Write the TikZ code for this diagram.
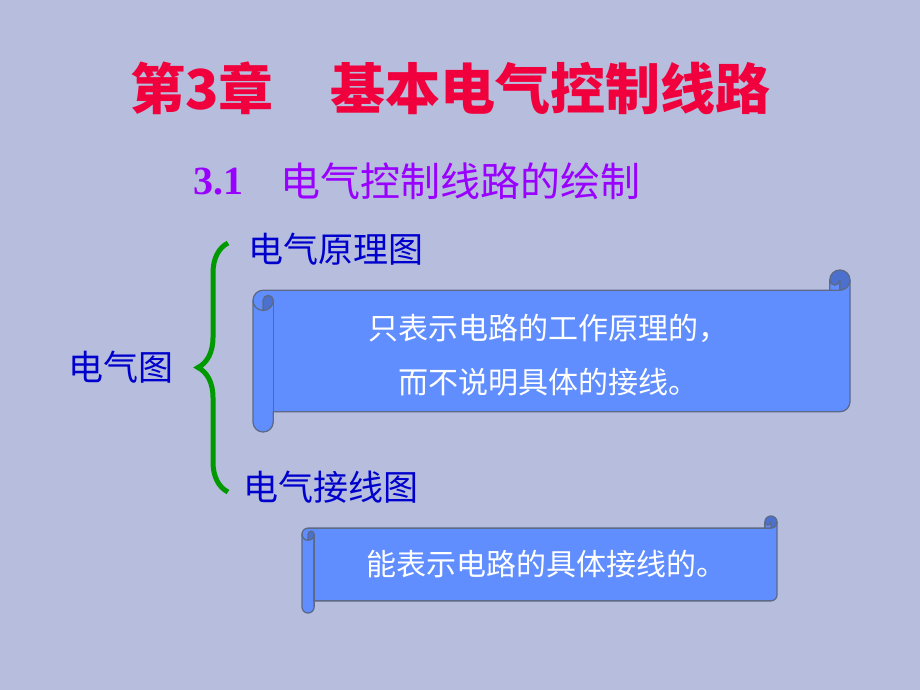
\documentclass[tikz,border=0pt]{standalone}
\usepackage{fontspec}
\setmainfont{Liberation Serif}
\newfontfamily\cjk{Noto Sans CJK SC}
\usepackage{tikz}
\usetikzlibrary{calc,positioning}
\usetikzlibrary{decorations.pathreplacing}

\definecolor{slidebg}{RGB}{182,189,221}
\definecolor{titlered}{RGB}{240,0,60}
\definecolor{subpurple}{RGB}{153,0,255}
\definecolor{labelblue}{RGB}{0,0,204}
\definecolor{bracegreen}{RGB}{0,153,0}
\definecolor{scrollfill}{RGB}{97,142,255}
\definecolor{scrolldark}{RGB}{76,112,206}
\definecolor{scrollline}{RGB}{92,106,136}

\tikzset{
  bluetext/.style={inner sep=0pt,anchor=west,text=labelblue,font=\cjk\fontsize{35}{42}\selectfont},
  scrolltext/.style={inner sep=0pt,align=center,text=white,font=\cjk\fontsize{30}{54}\selectfont},
  scrolledge/.style={draw=scrollline,line width=1.3pt,line join=round}
}

% horizontal scroll: left, top, right, bottom
\newcommand{\drawscroll}[4]{%
  \pgfmathsetmacro{\scL}{#1}\pgfmathsetmacro{\scT}{#2}%
  \pgfmathsetmacro{\scR}{#3}\pgfmathsetmacro{\scB}{#4}%
  \pgfmathsetmacro{\scC}{(#4-#2)/8}%
  \pgfmathsetmacro{\scH}{\scC/2}\pgfmathsetmacro{\scQ}{\scC/4}%
  \fill[scrollfill] (\scR,\scT+\scH)
    arc[start angle=0,delta angle=90,radius=\scH]
    -- (\scR-\scH,\scT+\scH)
    arc[start angle=0,delta angle=180,radius=\scQ]
    -- (\scR-\scC,\scT+\scC)
    -- (\scL+\scH,\scT+\scC)
    arc[start angle=270,delta angle=-90,radius=\scH]
    -- (\scL,\scB-\scH)
    arc[start angle=180,delta angle=-180,radius=\scH]
    -- (\scL+\scC,\scB-\scC)
    -- (\scR-\scH,\scB-\scC)
    arc[start angle=90,delta angle=-90,radius=\scH]
    -- cycle;
  \fill[scrolldark] (\scL+\scH,\scT+2*\scC)
    arc[start angle=90,delta angle=-90,radius=\scH]
    arc[start angle=0,delta angle=-180,radius=\scQ] -- cycle;
  \fill[scrolldark] (\scR-\scH,\scT+\scC)
    arc[start angle=90,delta angle=-270,radius=\scH]
    arc[start angle=180,delta angle=-180,radius=\scQ] -- cycle;
  \draw[scrolledge] (\scL,\scT+\scC+\scH)
    arc[start angle=180,delta angle=90,radius=\scH]
    -- (\scR-\scC,\scT+\scC)
    -- (\scR-\scC,\scT+\scH)
    arc[start angle=180,delta angle=180,radius=\scH]
    -- (\scR,\scB-\scC-\scH)
    arc[start angle=0,delta angle=90,radius=\scH]
    -- (\scL+\scC,\scB-\scC)
    -- (\scL+\scC,\scB-\scH)
    arc[start angle=0,delta angle=180,radius=\scH]
    -- cycle;
  \draw[scrolledge] (\scR-\scC,\scT+\scC) -- (\scR-\scH,\scT+\scC)
    arc[start angle=90,delta angle=-90,radius=\scH];
  \draw[scrolledge] (\scR-\scH,\scT+\scC) -- (\scR-\scH,\scT+\scH)
    arc[start angle=0,delta angle=180,radius=\scQ];
  \draw[scrolledge] (\scL+\scH,\scT+2*\scC) -- (\scL+\scH,\scT+\scC+\scH)
    arc[start angle=180,delta angle=180,radius=\scQ]
    arc[start angle=0,delta angle=180,radius=\scH];
  \draw[scrolledge] (\scL+\scC,\scT+\scC+\scH) -- (\scL+\scC,\scB-\scC);
}

\begin{document}
\begin{tikzpicture}[x=1pt,y=-1pt]
  \fill[slidebg] (0,0) rectangle (920,690);
  \useasboundingbox (0,0) rectangle (920,690);

  % headings
  \node[inner sep=0pt,anchor=west,text=titlered,font=\cjk\bfseries\fontsize{55}{60}\selectfont]
    (title) at (130,88) {第3章\hspace{57pt}基本电气控制线路};
  \node[inner sep=0pt,anchor=west,text=subpurple,font=\bfseries\fontsize{40}{46}\selectfont]
    (secnum) at (193,182) {3.1};
  \node[inner sep=0pt,anchor=west,text=subpurple,font=\cjk\fontsize{40}{46}\selectfont]
    (sectitle) at (280,181) {电气控制线路的绘制};

  % left label and brace
  \node[bluetext] (elecdiag) at (68,367) {电气图};
  \coordinate (bracetop) at (228,243);
  \coordinate (bracebot) at (228,492);
  \draw[bracegreen,line width=5pt,decorate,decoration={brace,amplitude=30pt}]
    (bracebot) -- (bracetop);

  % principle diagram
  \node[bluetext] (principle) at (248,249) {电气原理图};
  \drawscroll{253}{270}{850}{432}
  \node[scrolltext] (principletext) at (548,355) {只表示电路的工作原理的，\\而不说明具体的接线。};

  % wiring diagram
  \node[bluetext] (wiring) at (243,487) {电气接线图};
  \drawscroll{302}{516}{777}{613}
  \node[scrolltext] (wiringtext) at (546,564) {能表示电路的具体接线的。};
\end{tikzpicture}
\end{document}
